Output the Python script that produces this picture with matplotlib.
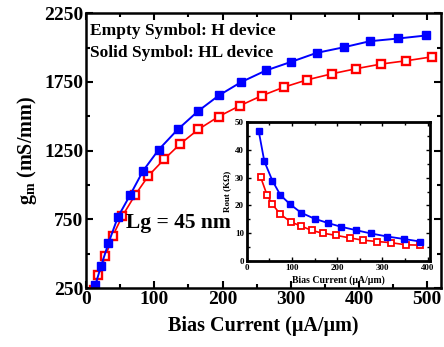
import numpy as np
import matplotlib
matplotlib.use('Agg')
import matplotlib.pyplot as plt
from matplotlib.ticker import MultipleLocator

plt.rcParams['font.family'] = 'Liberation Serif'
plt.rcParams['font.weight'] = 'bold'
plt.rcParams['mathtext.fontset'] = 'custom'
plt.rcParams['mathtext.rm'] = 'Liberation Serif:bold'
plt.rcParams['mathtext.it'] = 'Liberation Serif:bold'
plt.rcParams['mathtext.bf'] = 'Liberation Serif:bold'

# --- datos: gm vs corriente (grafico principal) ---
i_hl = [13.6, 22, 32.7, 46.4, 64.4, 83.5, 106.4, 134.3, 164, 194.7, 227, 263.5, 300.1, 337.8, 377.7, 415.8, 457.8, 498.8]
gm_hl = [274, 412, 576, 765, 926, 1103, 1257, 1404, 1537, 1652, 1748, 1833, 1895, 1961, 2002, 2046, 2066, 2088]

i_h = [11.3, 18, 28.3, 39.1, 53.1, 71.7, 91.2, 114.2, 138, 164.4, 194.3, 225, 257.2, 289.5, 324, 360.2, 395.8, 432.4, 469.5, 506.6]
gm_h = [233, 343, 480, 630, 774, 926, 1066, 1186, 1299, 1404, 1498, 1576, 1649, 1711, 1765, 1809, 1846, 1880, 1904, 1932]

# --- datos: Rout vs corriente (inset) ---
ri_hl = [26.7, 39, 56.9, 74.7, 96.2, 120, 150.2, 179, 208.9, 241.3, 274.7, 311, 348, 383.6]
rout_hl = [46.7, 35.9, 28.9, 23.7, 20.4, 17.4, 15.2, 13.7, 12.3, 11.1, 9.9, 8.8, 7.9, 7.0]

ri_h = [31.1, 45.1, 56.9, 74, 97.8, 120, 143.6, 168, 198.4, 228, 256.2, 288, 318.4, 352.4, 383.6]
rout_h = [30.1, 23.7, 20.4, 16.9, 14.0, 12.6, 11.0, 10.0, 9.2, 8.3, 7.5, 7.0, 6.6, 5.8, 5.7]

azul = '#0000ff'
rojo = '#ff0000'

fig = plt.figure(figsize=(4.44, 3.47), dpi=100)
ax = fig.add_axes([0.194, 0.170, 0.799, 0.792])

ax.plot(i_h, gm_h, '-s', color=rojo, lw=1.2, ms=5.5, mfc='white', mec=rojo, mew=1.7)
ax.plot(i_hl, gm_hl, '-s', color=azul, lw=1.4, ms=6, mfc=azul, mec=azul)

ax.set_xlim(0, 520)
ax.set_ylim(250, 2250)
ax.xaxis.set_minor_locator(MultipleLocator(50))
ax.yaxis.set_minor_locator(MultipleLocator(250))
ax.set_xticks([0, 100, 200, 300, 400, 500])
ax.set_yticks([250, 750, 1250, 1750, 2250])
ax.tick_params(which='both', direction='in', top=True, right=True, width=1.5)
ax.tick_params(which='major', length=5, labelsize=14, pad=2)
ax.tick_params(which='minor', length=3)
for s in ax.spines.values():
    s.set_linewidth(1.8)

ax.set_xlabel('Bias Current (μA/μm)', fontsize=14.5, fontweight='bold', labelpad=6)
ax.set_ylabel(r'g$_\mathrm{m}$ (mS/mm)', fontsize=14.5, fontweight='bold', labelpad=4)

ax.text(0.012, 0.965, 'Empty Symbol: H device', transform=ax.transAxes, fontsize=12.5,
        fontweight='bold', va='top', ha='left')
ax.text(0.012, 0.885, 'Solid Symbol: HL device', transform=ax.transAxes, fontsize=12.5,
        fontweight='bold', va='top', ha='left')
ax.text(0.112, 0.235, 'Lg = 45 nm', transform=ax.transAxes, fontsize=15.5,
        fontweight='bold', va='center', ha='left')

# inset
ins = fig.add_axes([0.5556, 0.248, 0.4124, 0.400])
ins.plot(ri_h, rout_h, '-s', color=rojo, lw=1.2, ms=4.2, mfc='white', mec=rojo, mew=1.3)
ins.plot(ri_hl, rout_hl, '-s', color=azul, lw=1.3, ms=4.8, mfc=azul, mec=azul)
ins.set_xlim(0, 405)
ins.set_ylim(0, 50)
ins.xaxis.set_major_locator(MultipleLocator(100))
ins.xaxis.set_minor_locator(MultipleLocator(50))
ins.yaxis.set_major_locator(MultipleLocator(10))
ins.yaxis.set_minor_locator(MultipleLocator(5))
ins.tick_params(which='both', direction='in', top=True, right=True, width=1.0)
ins.tick_params(which='major', length=3, labelsize=6.5, pad=2)
ins.tick_params(which='minor', length=2)
for s in ins.spines.values():
    s.set_linewidth(2)
ins.set_xlabel('Bias Current (μA/μm)', fontsize=7, fontweight='bold', labelpad=3)
ins.set_ylabel('Rout (KΩ)', fontsize=6.5, fontweight='bold', labelpad=3)

fig.savefig('out.png', dpi=100)
